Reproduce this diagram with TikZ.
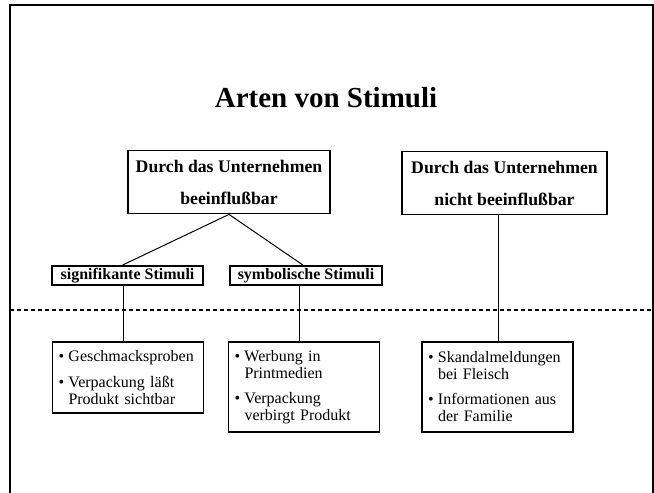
\documentclass[tikz,border=0pt]{standalone}
\usepackage{fontspec}
\setmainfont{Liberation Serif}
\usetikzlibrary{calc}

% bullet with hanging indent for the list boxes
\newcommand\bul{\makebox[10pt][l]{\textbullet}}
\newcommand\hng{\hspace*{10pt}}

\begin{document}
\begin{tikzpicture}[x=1pt,y=-1pt,
  frame/.style={line width=2pt},
  headbox/.style={draw, line width=1.8pt, minimum width=202pt, minimum height=63pt,
    inner sep=0pt, align=center, font=\bfseries\fontsize{17.7}{32}\selectfont},
  catbox/.style={draw, line width=1.8pt, minimum width=151pt, minimum height=19pt,
    inner sep=0pt, font=\bfseries\fontsize{16}{18}\selectfont},
  listbox/.style={draw, line width=1.8pt, text width=139pt, inner xsep=6pt,
    inner ysep=0pt, align=left, font=\fontsize{16}{17}\selectfont},
  link/.style={line width=1pt},
  divider/.style={line width=1.4pt, dash pattern=on 4pt off 3pt}]

\useasboundingbox (0,0) rectangle (654,493);

% open frame, running off the bottom edge
\draw[frame] (10,495) -- (10,5) -- (652.5,5) -- (652.5,495);

\node[font=\bfseries\fontsize{29}{34}\selectfont] (title) at (326,98) {Arten von Stimuli};

% top level
\node[headbox] (inf) at (229,182) {Durch das Unternehmen\\beeinflußbar};
\node[headbox, minimum width=205pt] (notinf) at (504.5,183) {Durch das Unternehmen\\nicht beeinflußbar};

% stimulus kinds
\node[catbox] (sig) at (127.5,275.5) {signifikante Stimuli};
\node[catbox, minimum width=152pt] (sym) at (306,275.5) {symbolische Stimuli};

% examples
\node[listbox, minimum height=71pt] (ex1) at (128,377.5)
  {\bul Geschmacksproben\\[9pt]\bul Verpackung läßt\\\hng Produkt sichtbar};
\node[listbox, minimum height=90pt] (ex2) at (304,387)
  {\bul Werbung in\\\hng Printmedien\\[8pt]\bul Verpackung\\\hng verbirgt Produkt};
\node[listbox, minimum height=90pt] (ex3) at (497.5,387)
  {\bul Skandalmeldungen\\\hng bei Fleisch\\[8pt]\bul Informationen aus\\\hng der Familie};

% dashed divider
\coordinate (dl) at (10,310);
\coordinate (dr) at (652,310);
\draw[divider] (dl) -- (dr);

% connector columns
\coordinate (xa) at (123,0);
\coordinate (xb) at (299,0);
\coordinate (xc) at (498,0);

\draw[link] (inf.south) -- ($(sig.north)+(-5,0)$);
\draw[link] (inf.south) -- ($(sym.north)+(-3,0)$);
\draw[link] (sig.south -| xa) -- (ex1.north -| xa);
\draw[link] (sym.south -| xb) -- (ex2.north -| xb);
\draw[link] (notinf.south -| xc) -- (ex3.north -| xc);
\end{tikzpicture}
\end{document}
